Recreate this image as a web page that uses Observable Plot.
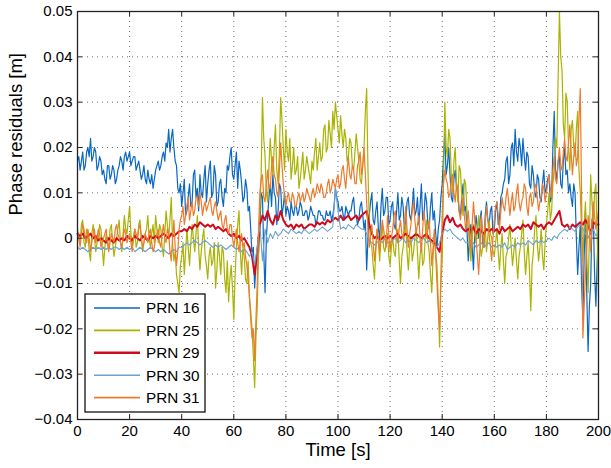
<!DOCTYPE html>
<html>
<head>
<meta charset="utf-8">
<script src="https://cdn.jsdelivr.net/npm/d3@7"></script>
<script src="https://cdn.jsdelivr.net/npm/@observablehq/plot@0.6"></script>
<style>
  html, body { margin: 0; padding: 0; background: #fff; }
  #chart { width: 611px; height: 468px; }
</style>
</head>
<body>
<div id="chart"></div>
<script>
// Phase residuals in millimetres.
// PRN 16, 25, 31 sampled every 0.5 s; PRN 29, 30 every 1 s (t = 0 … 200 s)
const seriesNames = ["PRN 16", "PRN 25", "PRN 29", "PRN 30", "PRN 31"];
const seriesColors = ["#0a67c2", "#a9b300", "#cf0a1d", "#6ba3d0", "#ef7a2b"];
const seriesWidths = [1.2, 1.2, 2.0, 1.1, 1.2];
const sampleStep = [0.5, 0.5, 1, 1, 0.5];

const prn16 = [
  17,18,15,17,19,15,16,19,20,18,22,17,18,20,19,15,16,18,17,14,
  15,13,12,16,16,13,14,16,15,12,13,15,16,18,17,15,18,19,17,18,
  19,16,17,18,18,15,16,17,15,13,14,16,13,12,15,13,12,14,11,13,
  15,16,17,15,16,18,19,17,21,20,24,19,22,24,20,17,16,11,10,12,
  7,10,13,5,6,9,12,7,8,14,15,9,11,6,14,10,9,13,16,8,
  12,15,17,9,10,16,14,7,8,12,13,9,7,11,10,16,15,18,20,14,
  13,16,19,11,17,15,12,8,9,13,11,6,7,2,-4,-2,-11,-6,-5,-3,
  2,10,9,-3,-12,0,5,9,12,7,14,10,9,3,6,12,11,5,7,10,
  5,7,6,4,8,6,5,7,7,5,6,8,7,5,5,6,6,4,5,7,
  6,5,5,3,4,6,6,5,5,4,4,6,5,5,6,4,5,7,11,9,
  8,6,6,7,5,4,7,6,5,6,6,8,9,5,5,3,4,7,8,5,
  2,4,-7,0,5,8,10,4,3,6,8,2,0,7,11,5,6,9,9,3,
  4,7,8,3,2,6,10,4,5,9,7,2,3,8,9,5,4,7,11,5,
  6,9,3,7,12,4,5,10,8,3,2,7,10,4,6,1,-2,2,4,9,
  12,18,23,14,16,20,14,9,8,13,15,11,10,6,5,9,12,6,7,2,
  -5,0,3,-2,-7,1,5,2,0,4,6,-1,-2,5,8,4,3,6,7,1,
  2,6,8,3,4,9,10,12,13,17,18,12,14,20,21,16,24,19,17,22,
  20,16,22,18,15,19,18,12,11,16,14,10,9,14,13,9,8,12,15,10,
  11,13,14,8,9,20,28,15,13,17,18,12,11,17,20,14,15,10,12,9,
  7,12,10,0,-8,-2,3,-10,-18,-4,6,-12,-25,-15,-10,4,5,-8,-15,-5,
  2
];
const prn25 = [
  2,0,-1,3,4,-1,-2,2,1,-3,-5,1,3,0,-3,-1,0,3,2,-2,
  -6,-2,1,-1,-2,2,3,-1,-4,-2,0,2,4,-1,-3,1,5,2,1,4,
  7,1,-2,0,2,-2,-1,3,4,0,-3,-1,1,2,5,0,-2,1,3,-1,
  5,2,-1,3,2,-2,-4,1,6,3,0,4,9,-1,-5,-3,-8,-10,-12,-6,
  -4,-1,-8,-3,2,-2,-6,-1,3,0,-3,1,5,-2,-7,-3,0,2,-4,-6,
  -9,-4,-2,-6,-5,-1,-11,-7,-1,-4,-8,-2,-3,-9,-12,-5,-14,-9,-6,-11,
  -18,-8,-2,3,6,-3,-8,-2,-4,-9,-10,-5,-13,-16,-20,-26,-33,-22,-15,-4,
  5,14,31,22,18,10,8,16,22,17,14,20,25,15,12,19,31,26,20,15,
  24,19,17,22,13,16,20,14,15,18,11,13,16,19,13,15,18,16,14,12,
  17,15,19,22,15,18,21,17,18,24,25,19,20,26,23,20,28,24,30,27,
  24,21,27,23,20,24,22,17,18,22,21,16,15,19,23,20,17,13,12,16,
  20,28,33,15,4,-1,-2,-6,-9,-3,2,-1,-5,0,3,-2,-3,-1,1,-4,
  -6,-2,0,-3,-4,1,2,-5,-10,-4,-2,1,3,-3,-7,-2,0,-5,-3,0,
  2,-3,-9,-4,-1,-6,-5,0,4,-1,-3,-8,-12,-4,1,-3,-6,-14,-24,-10,
  -5,12,30,20,18,24,22,14,10,17,20,12,8,16,15,9,5,13,12,6,
  2,-2,-5,0,3,1,-1,2,5,-1,-4,-2,1,3,-3,0,4,1,0,-3,
  -4,-1,2,-3,-7,-2,1,-5,-10,-4,-3,0,3,-2,-6,-3,0,-5,-9,-4,
  -2,1,4,-3,-8,-4,-1,-7,-16,-6,-3,2,5,-1,-5,-2,2,-4,-7,-1,
  3,6,10,4,6,12,15,22,20,35,50,40,37,25,22,32,30,20,15,24,
  26,20,18,24,28,15,10,2,-5,3,8,-4,-12,0,14,8,3,10,12,0,
  -13
];
const prn29 = [
  1,0.5,1,0,0.5,1,0,0.5,-0.5,0,
  -0.5,-1,0,-0.5,-1,0,-0.5,0,-0.5,0.5,
  0,-0.5,0.5,0,-0.5,0.5,0,-0.5,0.5,0,
  0.5,0,0.5,1,0.5,0,1,0.5,1,1.5,
  1.5,2,1.5,2.5,2,3,2.5,3.5,3,2.5,
  3,2.5,3,2,2.5,2,1.5,2,1,0.5,
  1,0,0.5,-0.5,0,-1,-2,-4,-8,-3,
  3,5,4,6,4,3,5,4,6,4,
  3,2.5,3,2,3,2.5,3,2,2.5,3,
  3,2.5,3.5,3,3.5,3,4,3.5,4,4.5,
  4,5,4,4.5,5,4,4.5,5,4,5,
  5.5,6,3,1,0,0.5,-0.5,0,0.5,0,
  0.5,0,0.5,1,0,0.5,1,0.5,0,0.5,
  1,0.5,0,0.5,1,0,-0.5,-1,-2,-3,
  1,4,5,3.5,4.5,3,2.5,3,2,1.5,
  2,1.5,2.5,1,2,1.5,1,2,1.5,2,
  1.5,2,1,2.5,1.5,2,2.5,1.5,2,2.5,
  2,3,2.5,3,2,3.5,3,2.5,3,2,
  3,3.5,3,4,5,6,3,2.5,3,2,
  3,2.5,3,3.5,3,4,3,1,3.5,3,
  3
];
const prn30 = [
  -2,-2.5,-2,-2.5,-3,-2.5,-2,-2.5,-2,-2.5,
  -2,-2.5,-2,-2.5,-2,-2,-2.5,-2,-2.5,-2,
  -2.5,-2,-3,-2.5,-2,-2.5,-3,-2.5,-2,-2.5,
  -3,-2.5,-3,-2.5,-3,-3.5,-3,-2.5,-3,-2,
  -2,-1.5,-1,-1.5,-1,-0.5,-1,-1.5,-1,-0.5,
  -1,-1.5,-2,-1.5,-2,-1.5,-2,-2.5,-2,-1.5,
  -2,-2.5,-2,-3,-2.5,-3,-4,-3,-6,-2,
  3,-5,2,-1,1,0,1.5,0.5,1,2,
  1.5,1,2,1.5,1,1.5,1,2,1.5,1,
  1.5,2,1.5,2,2.5,2,1.5,2,2.5,11,
  6,2,2.5,2,3,2.5,2,3,2.5,2,
  2,1,-0.5,-1,-1.5,-1,-0.5,-1,0,-1,
  -1,-0.5,0,-1,-0.5,0,-1,-0.5,-1,0,
  -0.5,-1,-0.5,0,-1,-0.5,-1,-1.5,-2,-1,
  1,2,1.5,2,1,0.5,0,-0.5,0,-1,
  -1,-1.5,-1,-2,-1.5,-1,-2,-1.5,-1,-2,
  -1.5,-2,-1.5,-2,-1,-2.5,-2,-1.5,-2,-1,
  -1.5,-1,-1.5,-0.5,-1,-1.5,-0.5,-1,-0.5,-1,
  -0.5,0,-0.5,0.5,0,1,1.5,2,1.5,2.5,
  2,1.5,2.5,3,2,1,0,1.5,2,0.5,
  1
];
const prn31 = [
  1,0,-2,1,3,2,0,-1,2,0,-3,-1,1,2,-1,0,2,1,-2,-1,
  0,1,2,-1,-3,-1,1,0,-1,2,3,1,0,-1,-2,0,2,1,-1,0,
  1,-1,-3,0,2,1,0,2,3,0,-2,-1,1,0,-1,1,2,-1,-3,-2,
  0,1,2,-1,-2,1,3,0,-1,2,1,-3,-5,0,4,-2,-6,-3,2,4,
  5,7,3,5,7,9,4,6,8,5,6,9,9,7,10,8,5,7,8,6,
  7,8,9,6,5,7,8,6,4,5,6,3,2,4,5,2,1,3,3,0,
  -2,0,2,-1,-3,-1,1,-2,-1,-4,-6,-9,-13,-18,-22,-20,-27,-18,-10,2,
  10,13,14,9,8,12,15,11,11,16,18,14,13,10,9,15,21,16,12,9,
  7,9,10,8,8,10,9,7,7,9,10,8,9,10,8,9,11,10,9,8,
  10,11,9,10,12,11,10,12,11,9,9,10,12,13,10,11,13,12,11,13,
  14,11,12,15,16,13,11,15,18,14,13,16,15,12,12,16,17,19,14,16,
  20,14,8,2,-2,1,3,-1,-5,-2,2,0,-3,1,4,2,0,-2,5,1,
  -3,0,2,5,6,1,-1,2,4,1,0,3,7,2,-2,1,3,6,8,4,
  1,3,5,0,-3,2,6,3,0,2,4,-1,-6,-2,2,-4,-10,-16,-20,-8,
  5,12,15,13,12,9,10,13,14,10,8,12,11,6,4,7,9,5,2,4,
  6,2,-3,3,8,4,0,-4,-8,-2,5,1,-2,3,7,4,1,-2,-5,0,
  4,7,8,5,2,6,9,7,6,9,11,8,5,8,10,6,7,10,12,8,
  6,8,9,12,11,7,5,9,10,7,8,11,12,9,6,8,9,12,11,8,
  10,12,14,11,9,15,18,13,12,17,20,16,15,19,22,18,17,21,25,19,
  14,18,21,16,18,26,33,10,-22,-15,-8,-2,5,2,-3,3,8,5,2,4,
  6
];
const seriesValues = [prn16, prn25, prn29, prn30, prn31];

const xTicks = [0, 20, 40, 60, 80, 100, 120, 140, 160, 180, 200];
const yTicks = [-0.04, -0.03, -0.02, -0.01, 0, 0.01, 0.02, 0.03, 0.04, 0.05];
const xLabel = "Time [s]";
const yLabel = "Phase residuals [m]";

// ---- build ----
const W = 611, H = 468;
const mL = 77, mR = 13, mT = 11, mB = 49;
const pw = W - mL - mR, ph = H - mT - mB;
const FONT = "'Liberation Sans', Arial, Helvetica, sans-serif";

const rows = seriesValues.map((vals, k) =>
  vals.map((v, i) => ({ t: i * sampleStep[k], v: v / 1000, s: seriesNames[k] }))
);

const yFmt = d => (Math.abs(d) < 1e-12 ? "0" : d3.format(".2f")(d));

const lineMarks = rows.map((data, k) =>
  Plot.line(data, {
    x: "t", y: "v",
    stroke: seriesColors[k],
    strokeWidth: seriesWidths[k],
    strokeLinejoin: "round"
  })
);

const chart = Plot.plot({
  width: W, height: H,
  marginLeft: mL, marginRight: mR, marginTop: mT, marginBottom: mB,
  style: { fontFamily: FONT, background: "#fff", overflow: "visible" },
  x: { domain: [0, 200], ticks: xTicks },
  y: { domain: [-0.04, 0.05], ticks: yTicks },
  marks: [
    Plot.gridX({ ticks: xTicks, stroke: "#444", strokeOpacity: 0.8, strokeDasharray: "1,4" }),
    Plot.gridY({ ticks: yTicks, stroke: "#444", strokeOpacity: 0.8, strokeDasharray: "1,4" }),
    ...lineMarks,
    // inward tick marks on all four sides
    Plot.ruleX(xTicks, { x: d => d, stroke: "#222", insetTop: ph - 5 }),
    Plot.ruleX(xTicks, { x: d => d, stroke: "#222", insetBottom: ph - 5 }),
    Plot.ruleY(yTicks, { y: d => d, stroke: "#222", insetRight: pw - 5 }),
    Plot.ruleY(yTicks, { y: d => d, stroke: "#222", insetLeft: pw - 5 }),
    Plot.frame({ stroke: "#222", strokeWidth: 1.3 }),
    Plot.axisX({ ticks: xTicks, tickSize: 0, tickPadding: 6, fontSize: 15, label: null, fill: "#000" }),
    Plot.axisY({ ticks: yTicks, tickSize: 0, tickPadding: 5, fontSize: 15, label: null, tickFormat: yFmt, fill: "#000" }),
    Plot.text([xLabel], { frameAnchor: "bottom", dy: 36, fontSize: 18.5, fill: "#000", text: d => d }),
    Plot.text([yLabel], { frameAnchor: "left", dx: -61, rotate: -90, fontSize: 18.5, fill: "#000", text: d => d })
  ]
});

document.getElementById("chart").appendChild(chart);

// ---- legend box (lower left, inside the axes) ----
const svg = d3.select(chart);
const lg = svg.append("g").attr("class", "legend").attr("text-anchor", "start");
const lx = 85, ly = 294, lw = 120, lh = 118;
lg.append("rect").attr("x", lx).attr("y", ly).attr("width", lw).attr("height", lh)
  .attr("fill", "#fff").attr("stroke", "#111").attr("stroke-width", 1.3);
seriesNames.forEach((name, k) => {
  const yy = ly + 14 + k * 22.4;
  lg.append("line").attr("x1", lx + 9).attr("x2", lx + 55).attr("y1", yy).attr("y2", yy)
    .attr("stroke", seriesColors[k]).attr("stroke-width", seriesWidths[k] + 0.4);
  lg.append("text").attr("x", lx + 61).attr("y", yy).attr("dy", "0.35em")
    .attr("text-anchor", "start")
    .attr("font-family", FONT).attr("font-size", 15.3).attr("fill", "#000").text(name);
});
</script>
</body>
</html>
